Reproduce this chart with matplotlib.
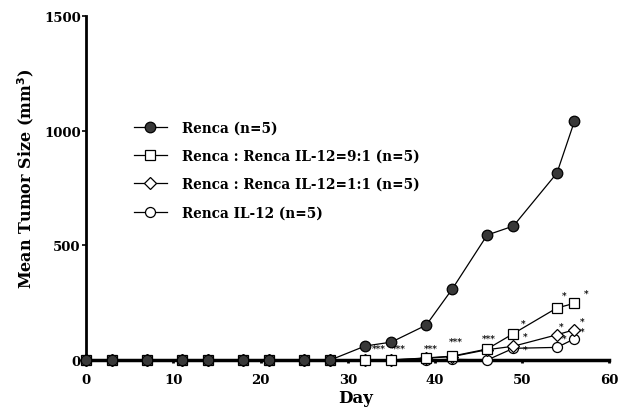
import matplotlib.pyplot as plt

days = [0, 3, 7, 11, 14, 18, 21, 25, 28, 32, 35, 39, 42, 46, 49, 54, 56]
renca = [0, 0, 0, 0, 0, 0, 0, 0, 0, 61, 78, 152, 310, 545, 584, 815, 1040]
renca_9_1 = [0, 0, 0, 0, 0, 0, 0, 0, 0, 0, 0, 9, 17, 48, 115, 227, 247]
renca_1_1 = [0, 0, 0, 0, 0, 0, 0, 0, 0, 0, 0, 8, 15, 45, 60, 110, 132]
renca_il12 = [0, 0, 0, 0, 0, 0, 0, 0, 0, 0, 0, 0, 3, 0, 51, 55, 92]

labels = ["Renca (n=5)", "Renca : Renca IL-12=9:1 (n=5)",
          "Renca : Renca IL-12=1:1 (n=5)", "Renca IL-12 (n=5)"]

# significance marks (x, y, text)
stars = [(33.6, 30, "***"), (35.9, 30, "***"), (39.5, 33, "***"), (42.4, 62, "***"),
         (46.2, 75, "***"),
         (50.1, 140, "*"), (54.8, 262, "*"), (57.3, 270, "*"),
         (50.3, 85, "*"), (54.5, 130, "*"), (56.9, 152, "*"),
         (50.3, 28, "*"), (54.8, 76, "*"), (56.9, 105, "*")]

plt.rcParams['font.family'] = "DejaVu Serif"
plt.rcParams['font.weight'] = 'bold'

fig = plt.figure(figsize=(6.3, 4.14), dpi=100)
ax = fig.add_axes([0.137, 0.128, 0.830, 0.831])

ax.plot(days, renca_il12, color='black', lw=0.9, marker='o', ms=7.2,
        mfc='white', mec='black', mew=0.9, label=labels[3], clip_on=False, zorder=3)
ax.plot(days, renca_1_1, color='black', lw=0.9, marker='D', ms=5.8,
        mfc='white', mec='black', mew=0.9, label=labels[2], clip_on=False, zorder=4)
ax.plot(days, renca_9_1, color='black', lw=0.9, marker='s', ms=7.4,
        mfc='white', mec='black', mew=0.9, label=labels[1], clip_on=False, zorder=5)
ax.plot(days, renca, color='black', lw=0.9, marker='o', ms=7.6,
        mfc='#383838', mec='black', mew=0.9, label=labels[0], clip_on=False, zorder=6)

for x, y, t in stars:
    ax.text(x, y, t, fontsize=6.5, ha='center', va='bottom', zorder=2)

ax.set_xlim(0, 60)
ax.set_ylim(0, 1500)
ax.set_xticks([0, 10, 20, 30, 40, 50, 60])
ax.set_yticks([0, 500, 1000, 1500])
ax.spines['top'].set_visible(False)
ax.spines['right'].set_visible(False)
ax.spines['left'].set_linewidth(2)
ax.spines['bottom'].set_linewidth(2.5)
ax.tick_params(axis='x', length=2, width=2, labelsize=9.5, pad=7)
ax.tick_params(axis='y', length=3, width=1.2, labelsize=9.5, pad=1)

fig.text(0.565, 0.038, "Day", fontsize=12, fontweight='bold', ha='center', va='center')
fig.text(0.040, 0.568, "Mean Tumor Size (mm$^\\mathbf{3}$)", fontsize=11.5,
         fontweight='bold', ha='center', va='center', rotation=90)

h, l = ax.get_legend_handles_labels()
order = [3, 2, 1, 0]
ax.legend([h[i] for i in order], [l[i] for i in order], loc='upper left',
          bbox_to_anchor=(0.068, 0.732), frameon=False, fontsize=9.8,
          handlelength=2.4, handletextpad=1.1, labelspacing=1.05)

plt.savefig("out.png", dpi=100)
